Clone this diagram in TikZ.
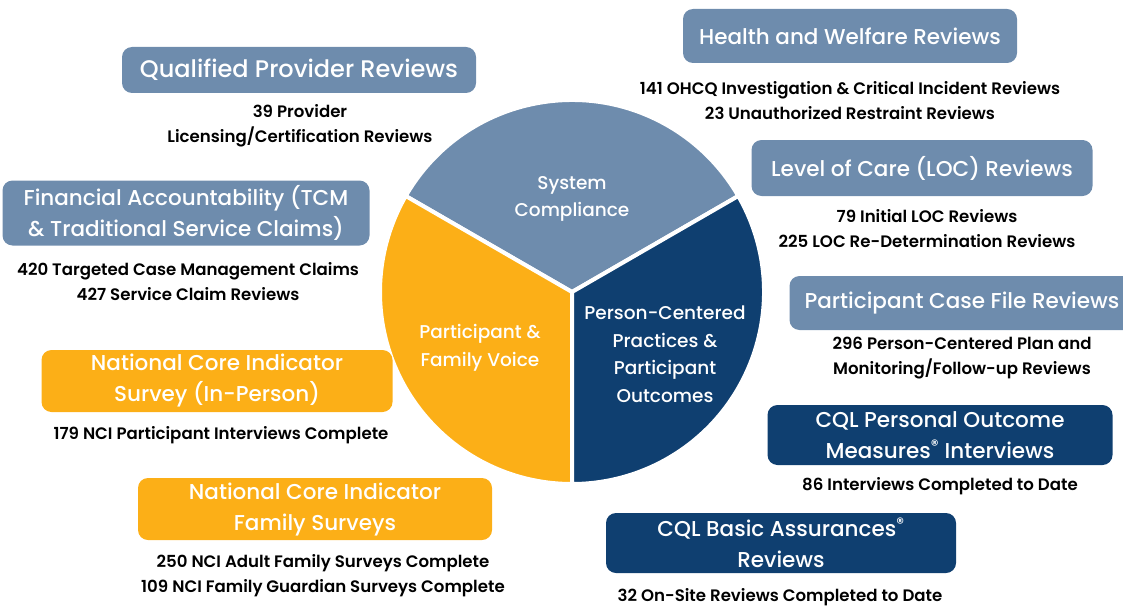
\documentclass[tikz,border=0pt]{standalone}
\usepackage{fontspec}
\setmainfont{Poppins}[UprightFont=* Medium,BoldFont=* SemiBold]
\usetikzlibrary{positioning}
\definecolor{slate}{HTML}{6E8CAD}
\definecolor{amber}{HTML}{FCAF17}
\definecolor{navy}{HTML}{0F3F70}
\tikzset{
  banner/.style={rounded corners=10pt,text=white,align=center,inner sep=0pt,
    font=\fontsize{21.5}{31}\selectfont},
  detail/.style={align=center,inner sep=0pt,font=\bfseries\fontsize{16.6}{25}\selectfont},
  slicelabel/.style={text=white,align=center,inner sep=0pt,font=\fontsize{18.5}{27.5}\selectfont},
  slice/.style={draw=white,line width=4pt,line join=round}
}

\begin{document}
\begin{tikzpicture}[x=1pt,y=-1pt]
\useasboundingbox (0,0) rectangle (1123,607);

% torta centrale
\coordinate (c) at (572,292);
\filldraw[slice,fill=slate] (c) -- ++(210:192) arc[start angle=210,end angle=330,radius=192] -- cycle;
\filldraw[slice,fill=amber] (c) -- ++(90:192) arc[start angle=90,end angle=210,radius=192] -- cycle;
\filldraw[slice,fill=navy] (c) -- ++(-30:192) arc[start angle=-30,end angle=90,radius=192] -- cycle;

\node[slicelabel] (sys) at (572,199) {System\\Compliance};
\node[slicelabel] (voice) at (480,348) {Participant \&\\Family Voice};
\node[slicelabel] (pcp) at (665,354) {Person-Centered\\Practices \&\\Participant\\Outcomes};

% riquadri a sinistra
\node[banner,fill=slate,minimum width=354pt,minimum height=46pt,font=\fontsize{24}{31}\selectfont] (qpr) at (299,70) {Qualified Provider Reviews};
\node[detail] (qprd) at (300,126) {39 Provider\\Licensing/Certification Reviews};

\node[banner,fill=slate,minimum width=367pt,minimum height=65pt] (fin) at (186,213) {Financial Accountability (TCM\\\& Traditional Service Claims)};
\node[detail] (find) at (188,282) {420 Targeted Case Management Claims\\427 Service Claim Reviews};

\node[banner,fill=amber,minimum width=351pt,minimum height=62pt] (nci) at (217,381) {National Core Indicator\\Survey (In-Person)};
\node[detail] (ncid) at (221,435) {179 NCI Participant Interviews Complete};

\node[banner,fill=amber,minimum width=354pt,minimum height=62pt] (ncf) at (315,509) {National Core Indicator\\Family Surveys};
\node[detail] (ncfd) at (323,576) {250 NCI Adult Family Surveys Complete\\109 NCI Family Guardian Surveys Complete};

% riquadri a destra
\node[banner,fill=slate,minimum width=334pt,minimum height=54pt] (hw) at (850,36) {Health and Welfare Reviews};
\node[detail] (hwd) at (850,101) {141 OHCQ Investigation \& Critical Incident Reviews\\23 Unauthorized Restraint Reviews};

\node[banner,fill=slate,minimum width=341pt,minimum height=56pt] (loc) at (922,168) {Level of Care (LOC) Reviews};
\node[detail] (locd) at (927,229) {79 Initial LOC Reviews\\225 LOC Re-Determination Reviews};

\node[banner,fill=slate,minimum width=345pt,minimum height=54pt] (pcf) at (962,303) {Participant Case File Reviews};
\node[detail] (pcfd) at (962,358) {296 Person-Centered Plan and\\Monitoring/Follow-up Reviews};

\node[banner,fill=navy,minimum width=345pt,minimum height=60pt] (pom) at (940,435) {CQL Personal Outcome\\Measures\textsuperscript{®} Interviews};
\node[detail] (pomd) at (940,486) {86 Interviews Completed to Date};

\node[banner,fill=navy,minimum width=350pt,minimum height=60pt] (cba) at (781,543) {CQL Basic Assurances\textsuperscript{®}\\Reviews};
\node[detail] (cbad) at (780,597) {32 On-Site Reviews Completed to Date};

\end{tikzpicture}
\end{document}
